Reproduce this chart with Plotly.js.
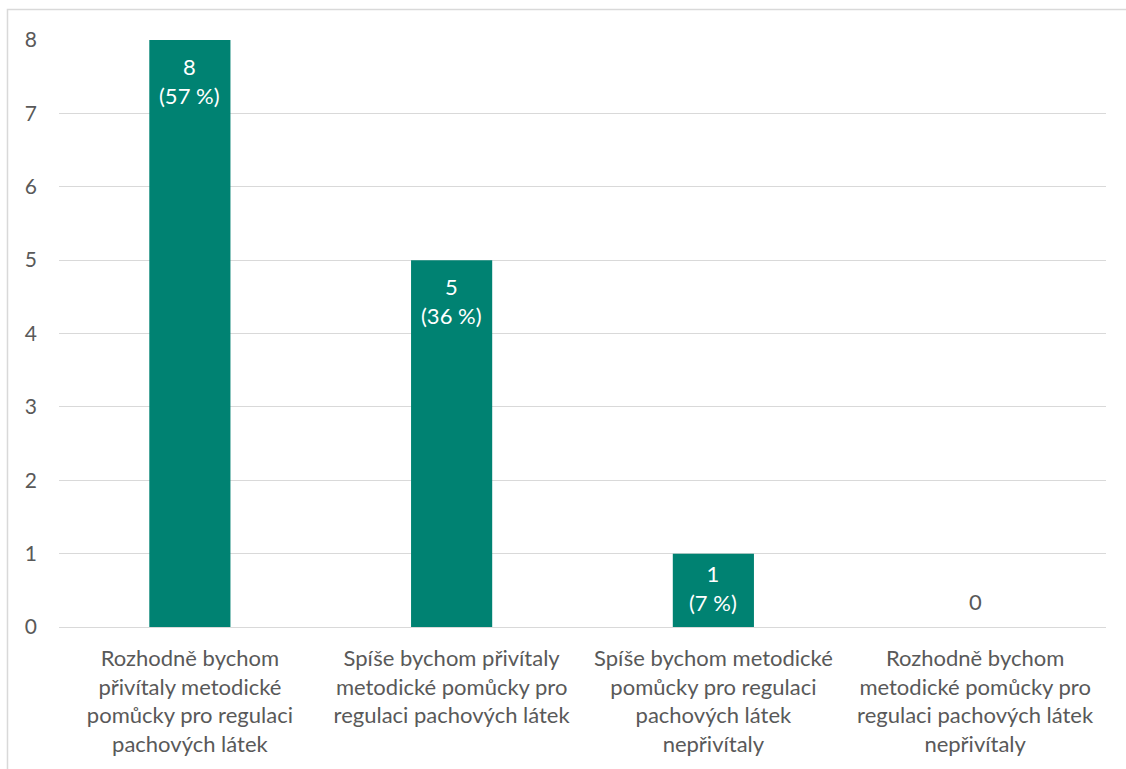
<!DOCTYPE html>
<html>
<head>
<meta charset="utf-8">
<script src="https://cdn.plot.ly/plotly-3.0.1.min.js"></script>
<style>html,body{margin:0;padding:0;background:#fff;}</style>
</head>
<body>
<div id="chart" style="width:1126px;height:769px;"></div>
<script>
const categories = [
  "Rozhodně bychom<br>přivítaly metodické<br>pomůcky pro regulaci<br>pachových látek",
  "Spíše bychom přivítaly<br>metodické pomůcky pro<br>regulaci pachových látek",
  "Spíše bychom metodické<br>pomůcky pro regulaci<br>pachových látek<br>nepřivítaly",
  "Rozhodně bychom<br>metodické pomůcky pro<br>regulaci pachových látek<br>nepřivítaly"
];
const counts = [8, 5, 1, 0];
const percents = ["57 %", "36 %", "7 %", ""];
const yTicks = [0, 1, 2, 3, 4, 5, 6, 7, 8];

const FONT = "Lato, 'Open Sans', sans-serif";
const GRAY = "#595959";
const BAR = "#008272";

const annotations = categories.map((c, i) => {
  if (counts[i] > 1) {
    return {
      x: c, y: counts[i], xref: "x", yref: "y",
      text: counts[i] + "<br>(" + percents[i] + ")",
      showarrow: false, yanchor: "top", yshift: -11,
      font: {family: FONT, size: 22, color: "#ffffff"}
    };
  }
  if (counts[i] > 0) {
    // short bar: label centred inside the bar
    return {
      x: c, y: counts[i] / 2, xref: "x", yref: "y",
      text: counts[i] + "<br>(" + percents[i] + ")",
      showarrow: false, yanchor: "middle", yshift: 2,
      font: {family: FONT, size: 22, color: "#ffffff"}
    };
  }
  return {
    x: c, y: counts[i], xref: "x", yref: "y",
    text: String(counts[i]),
    showarrow: false, yanchor: "bottom", yshift: 10,
    font: {family: FONT, size: 22, color: GRAY}
  };
});

const trace = {
  type: "bar",
  x: categories,
  y: counts,
  marker: {color: BAR},
  hoverinfo: "none"
};

const layout = {
  width: 1126, height: 769,
  margin: {l: 59, r: 20, t: 40, b: 142},
  paper_bgcolor: "#ffffff", plot_bgcolor: "#ffffff",
  bargap: 0.69,
  showlegend: false,
  font: {family: FONT, size: 22, color: GRAY},
  xaxis: {
    type: "category",
    showgrid: false, zeroline: false, showline: false,
    ticks: "", ticklabelstandoff: 16,
    tickfont: {family: FONT, size: 22, color: GRAY},
    fixedrange: true
  },
  yaxis: {
    range: [0, 8],
    tickvals: yTicks,
    showgrid: true, gridcolor: "#d9d9d9", gridwidth: 1,
    zeroline: true, zerolinecolor: "#d9d9d9", zerolinewidth: 1,
    showline: false, ticks: "", ticklabelstandoff: 21,
    tickfont: {family: FONT, size: 21, color: GRAY},
    fixedrange: true
  },
  annotations: annotations,
  shapes: [{
    type: "rect", xref: "paper", yref: "paper",
    x0: -0.0492, x1: 1.2, y0: -1, y1: 1.052,
    line: {color: "#d9d9d9", width: 1.5}, fillcolor: "rgba(0,0,0,0)", layer: "below"
  }]
};

Plotly.newPlot("chart", [trace], layout, {displayModeBar: false, staticPlot: true});
</script>
</body>
</html>
